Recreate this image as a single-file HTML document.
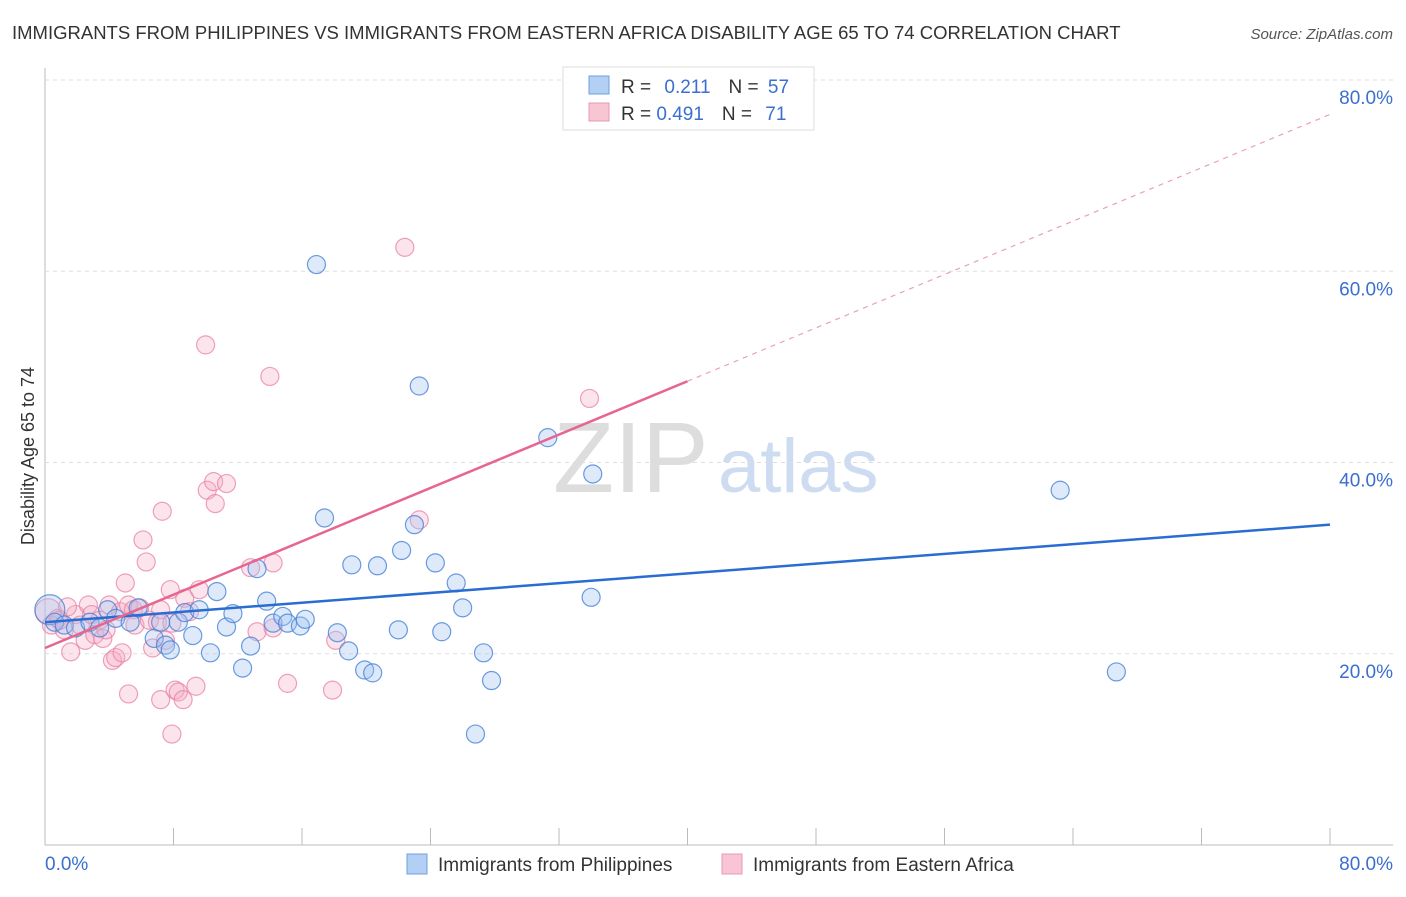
<!DOCTYPE html>
<html><head><meta charset="utf-8"><style>
body{margin:0;background:#fff;font-family:"Liberation Sans",sans-serif}
svg text{font-family:"Liberation Sans",sans-serif}
</style></head><body>
<svg id="c" width="1406" height="892">
<text x="12" y="39" font-size="18.5" fill="#333">IMMIGRANTS FROM PHILIPPINES VS IMMIGRANTS FROM EASTERN AFRICA DISABILITY AGE 65 TO 74 CORRELATION CHART</text>
<text x="1393" y="39" font-size="15" fill="#555" text-anchor="end" font-style="italic">Source: ZipAtlas.com</text>
<text x="553" y="492" font-size="100" fill="#ddd" font-family="Liberation Serif">ZIP</text>
<text x="718" y="492" font-size="76" fill="#cddcf0">atlas</text>
<text transform="translate(34,456) rotate(-90)" font-size="18" fill="#333" text-anchor="middle">Disability Age 65 to 74</text>
<g id="grid"></g><g id="marks"></g><g id="lines"></g>
<g>
<rect x="563" y="67" width="251" height="63" fill="#fff" stroke="#ddd"/>
<rect x="589" y="76" width="20" height="18" fill="#b3cff3" stroke="#6e9fe0"/>
<rect x="589" y="103" width="20" height="18" fill="#f8c5d5" stroke="#ec97b3"/>
<text x="621" y="93" font-size="19" fill="#333">R = <tspan fill="#3a6fd0" dx="8">0.211</tspan><tspan dx="18" fill="#333">N = </tspan><tspan fill="#3a6fd0" dx="4">57</tspan></text>
<text x="621" y="120" font-size="19" fill="#333">R = <tspan fill="#3a6fd0">0.491</tspan><tspan dx="18" fill="#333">N = </tspan><tspan fill="#3a6fd0" dx="8">71</tspan></text>
</g>
<g>
<rect x="407" y="854" width="20" height="20" fill="#b3cff3" stroke="#6e9fe0"/>
<text x="438" y="871" font-size="19" fill="#333">Immigrants from Philippines</text>
<rect x="722" y="854" width="20" height="20" fill="#f8c5d5" stroke="#ec97b3"/>
<text x="753" y="871" font-size="19" fill="#333">Immigrants from Eastern Africa</text>
</g>
</svg>
<script>
const yTicks=[20,40,60,80];
const xTickLabels=["0.0%","80.0%"];
const blueX=[0.3,0.6,1.2,1.9,2.8,3.4,3.9,4.4,5.3,5.8,6.8,7.2,7.5,7.8,8.3,8.7,9.2,9.6,10.3,10.7,11.3,11.7,12.3,12.8,13.2,13.8,14.2,14.8,15.1,15.9,16.2,16.9,17.4,18.2,18.9,19.1,19.9,20.4,20.7,22.0,22.2,23.0,23.3,24.3,24.7,25.6,26.0,26.8,27.3,27.8,31.3,34.1,34.0,63.2,66.7];
const blueY=[24.6,23.3,23.0,22.7,23.3,22.7,24.6,23.7,23.3,24.8,21.6,23.3,20.9,20.4,23.3,24.3,21.9,24.6,20.1,26.5,22.8,24.2,18.5,20.8,28.9,25.5,23.2,23.9,23.2,22.9,23.6,60.7,34.2,22.2,20.3,29.3,18.3,18.0,29.2,22.5,30.8,33.5,48.0,29.5,22.3,27.4,24.8,11.6,20.1,17.2,42.6,38.8,25.9,37.1,18.1];
const pinkX=[0.2,0.4,0.8,1.2,1.6,1.9,2.2,2.5,2.7,2.9,3.1,3.4,3.6,3.8,4.0,4.2,4.4,4.7,4.8,5.0,5.2,5.5,5.6,5.9,6.1,6.3,6.5,6.7,7.0,7.2,7.3,7.5,7.8,7.9,8.1,8.3,8.6,8.7,9.0,9.4,9.6,10.0,10.1,10.5,10.6,11.3,12.8,13.2,14.0,14.2,14.2,15.1,17.9,18.1,22.4,23.3,33.9,7.9,5.2,7.2,0.9,1.4];
const pinkY=[24.4,23.0,23.7,22.5,20.2,24.1,23.0,21.4,25.1,24.1,22.0,23.5,21.6,22.5,25.1,19.3,19.6,24.4,20.1,27.4,25.1,24.6,23.0,24.8,31.9,29.6,23.5,20.6,23.3,24.6,34.9,21.4,26.7,23.2,16.2,16.0,15.2,25.8,24.4,16.6,26.7,52.3,37.1,38.0,35.7,37.8,29.0,22.3,49.0,29.5,22.7,16.9,16.2,21.4,62.5,34.0,46.7,11.6,15.8,15.2,23.5,24.9];
const blueTrend=[23.3,33.5];
const pinkTrend=[20.6,76.4];
const NS="http://www.w3.org/2000/svg";
const X0=45,X1=1330,Y0=845,YT=80;
const sx=v=>X0+(v/80)*(X1-X0);
const sy=v=>Y0-(v/80)*(Y0-YT);
function mk(t,a,p){const e=document.createElementNS(NS,t);for(const k in a)e.setAttribute(k,a[k]);p.appendChild(e);return e;}
const g=document.getElementById('grid');
mk('line',{x1:X0,y1:68,x2:X0,y2:Y0,stroke:'#bbb'},g);
mk('line',{x1:X0,y1:Y0,x2:1393,y2:Y0,stroke:'#bbb'},g);
for(let i=1;i<=10;i++){const x=sx(i*8);const t=mk('line',{x1:x,y1:828,x2:x,y2:Y0,stroke:'#bbb'},g);

}
yTicks.forEach(v=>{const l=mk('line',{x1:X0,y1:sy(v),x2:1393,y2:sy(v),stroke:'#ddd','stroke-dasharray':'4,4'},g);


const t=mk('text',{x:1393,y:sy(v)+24,'font-size':19,fill:'#3a6fd0','text-anchor':'end'},g);t.textContent=v.toFixed(1)+'%';

});
const t0=mk('text',{x:45,y:870,'font-size':19,fill:'#3a6fd0'},g);t0.textContent=xTickLabels[0];


const t1=mk('text',{x:1393,y:870,'font-size':19,fill:'#3a6fd0','text-anchor':'end'},g);t1.textContent=xTickLabels[1];


const m=document.getElementById('marks');
pinkX.forEach((x,i)=>{const c=mk('circle',{cx:sx(x),cy:sy(pinkY[i]),r:i==0?13:9,fill:'rgba(246,170,196,0.32)',stroke:'rgba(232,130,165,0.75)','stroke-width':1.2},m);

});
blueX.forEach((x,i)=>{const c=mk('circle',{cx:sx(x),cy:sy(blueY[i]),r:i==0?15:9,fill:'rgba(160,195,240,0.35)',stroke:'rgba(70,130,215,0.8)','stroke-width':1.2},m);

});
const L=document.getElementById('lines');
const bl=mk('line',{x1:sx(0),y1:sy(blueTrend[0]),x2:sx(80),y2:sy(blueTrend[1]),stroke:'#2a6dd2','stroke-width':2.5},L);


const pm=v=>pinkTrend[0]+(pinkTrend[1]-pinkTrend[0])*v/80;
const pl=mk('line',{x1:sx(0),y1:sy(pm(0)),x2:sx(40),y2:sy(pm(40)),stroke:'#e8658f','stroke-width':2.5},L);


const pd=mk('line',{x1:sx(40),y1:sy(pm(40)),x2:sx(80),y2:sy(pm(80)),stroke:'#eaa0b8','stroke-width':1.2,'stroke-dasharray':'5,5'},L);


</script>
</body></html>
